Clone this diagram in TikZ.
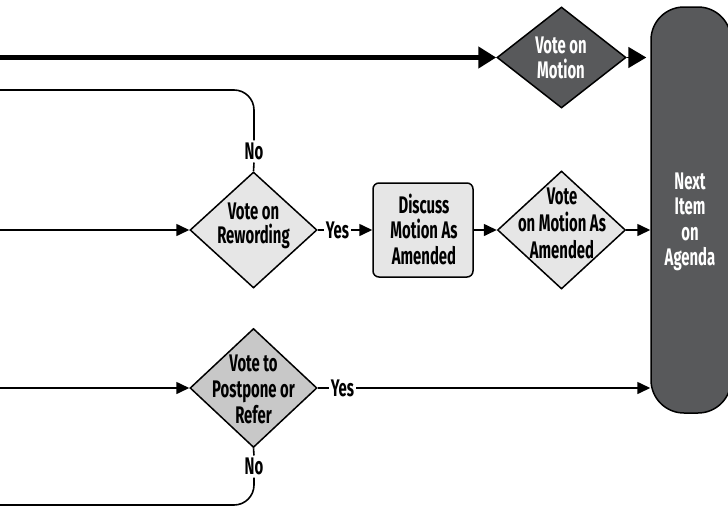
\documentclass[tikz,border=0pt]{standalone}
\usepackage{fontspec}
\setmainfont{Fira Sans}[FakeStretch=0.62]
\usetikzlibrary{arrows.meta,shapes.geometric}
\definecolor{darkfill}{RGB}{88,89,91}
\definecolor{lightfill}{RGB}{230,230,230}
\definecolor{midfill}{RGB}{200,200,200}
\begin{document}
\begin{tikzpicture}[x=1pt,y=-1pt,
  txt/.style={font=\fontsize{24}{25.5}\selectfont\bfseries, align=center, inner sep=0pt, text depth=0pt},
  dia/.style={diamond, draw=black, line width=1.5pt, inner sep=0pt},
  lbl/.style={txt, inner xsep=2pt, inner ysep=2.5pt},
  conn/.style={line width=1.6pt},
  arr/.style={conn, -{Triangle[length=13pt,width=12pt]}},
  bigarr/.style={-{Triangle[length=18pt,width=21pt]}},
  boxstyle/.style={draw=black, line width=1.5pt, inner sep=0pt}
]
\useasboundingbox (0,0) rectangle (728,506);

% nodes
\node[boxstyle, fill=darkfill, rounded corners=33pt, minimum width=80pt, minimum height=406pt] (next) at (691,210) {};
\node[txt, text=white] (nextt) at (690,219) {Next\\Item\\on\\Agenda};

\node[dia, fill=darkfill, minimum width=129pt, minimum height=101pt] (d1) at (561.5,57.5) {};
\node[txt, text=white, font=\fontsize{24}{24.5}\selectfont\bfseries] (d1t) at (561,57.5) {Vote on\\Motion};

\node[dia, fill=lightfill, minimum width=127pt, minimum height=116pt] (d2) at (253.5,230) {};
\node[txt, font=\fontsize{24}{24}\selectfont\bfseries] (d2t) at (253.5,223) {Vote on\\Rewording};

\node[boxstyle, fill=lightfill, rounded corners=6pt, minimum width=100pt, minimum height=94pt] (disc) at (423,230) {};
\node[txt] (disct) at (424,229) {Discuss\\Motion As\\Amended};

\node[dia, fill=lightfill, minimum width=128pt, minimum height=118pt] (d3) at (561.5,230) {};
\node[txt, font=\fontsize{24}{26.7}\selectfont\bfseries] (d3t) at (562,223) {Vote\\on Motion As\\Amended};

\node[dia, fill=midfill, minimum width=127pt, minimum height=119pt] (d4) at (253.5,388) {};
\node[txt, font=\fontsize{24}{25.7}\selectfont\bfseries] (d4t) at (253.5,389) {Vote to\\Postpone or\\Refer};

\node[lbl] (no1) at (254,151.5) {No};
\node[lbl] (yes1) at (337.5,230) {Yes};
\node[lbl] (yes2) at (342.5,388) {Yes};
\node[lbl] (no2) at (254,466.5) {No};

% free ends
\coordinate (s1) at (0,57.5);
\coordinate (s2) at (0,90);
\coordinate (c2) at (254,90);
\coordinate (s3) at (0,230);
\coordinate (s4) at (0,388);
\coordinate (s5) at (0,505);
\coordinate (c5) at (254,505);

% connectors
\draw[line width=5pt, bigarr] (s1) -- (d1.west);
\draw[conn, bigarr, shorten >=4pt] (d1.east) -- (d1.east -| next.west);
\draw[conn, rounded corners=20pt] (s2) -- (c2) -- (no1.north);
\draw[conn] (no1.south) -- (d2.north);
\draw[arr] (s3) -- (d2.west);
\draw[conn] (d2.east) -- (yes1.west);
\draw[arr] (yes1.east) -- (disc.west);
\draw[arr] (disc.east) -- (d3.west);
\draw[arr] (d3.east) -- (d3.east -| next.west);
\draw[arr] (s4) -- (d4.west);
\draw[conn] (d4.east) -- (yes2.west);
\draw[arr] (yes2.east) -- (yes2.east -| next.west);
\draw[conn] (d4.south) -- (no2.north);
\draw[conn, rounded corners=20pt] (no2.south) -- (c5) -- (s5);
\end{tikzpicture}
\end{document}
